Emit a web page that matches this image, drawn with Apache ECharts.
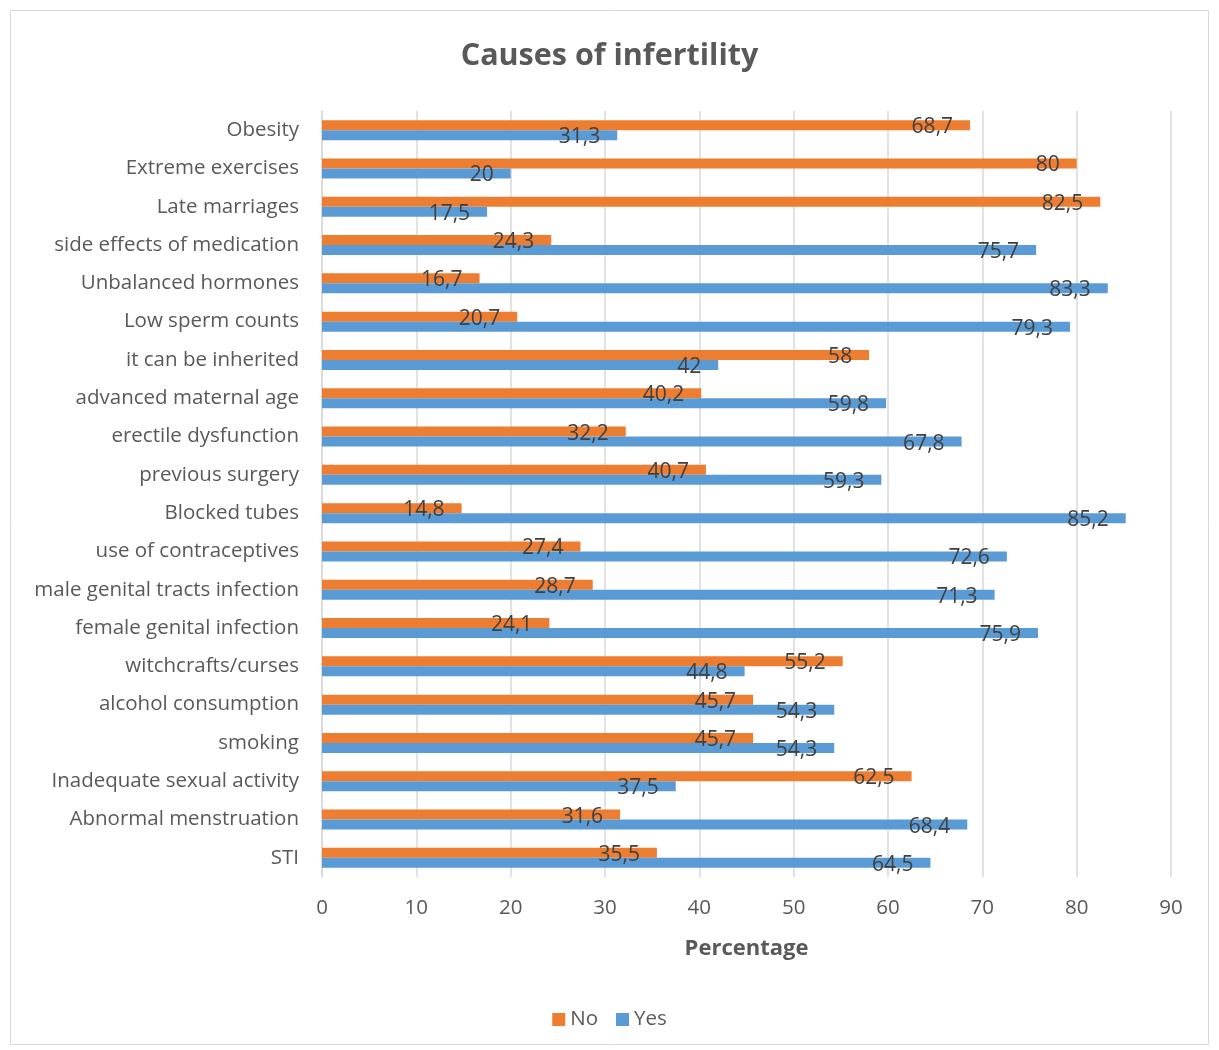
<!DOCTYPE html>
<html><head><meta charset="utf-8">
<script src="https://cdn.jsdelivr.net/npm/echarts@6/dist/echarts.min.js"></script>
<style>html,body{margin:0;padding:0;background:#fff}#c{width:1219px;height:1050px}</style>
</head><body><div id="c"></div>
<script>
const categories = ["Obesity","Extreme exercises","Late marriages","side effects of medication","Unbalanced hormones","Low sperm counts","it can be inherited","advanced maternal age","erectile dysfunction","previous surgery","Blocked tubes","use of contraceptives","male genital tracts infection","female genital infection","witchcrafts/curses","alcohol consumption","smoking","Inadequate sexual activity","Abnormal menstruation","STI"];
const noValues = [68.7,80,82.5,24.3,16.7,20.7,58,40.2,32.2,40.7,14.8,27.4,28.7,24.1,55.2,45.7,45.7,62.5,31.6,35.5];
const yesValues = [31.3,20,17.5,75.7,83.3,79.3,42,59.8,67.8,59.3,85.2,72.6,71.3,75.9,44.8,54.3,54.3,37.5,68.4,64.5];
const xTicks = [0,10,20,30,40,50,60,70,80,90];

const FONT = "Open Sans";
const fmt = p => String(p.value).replace('.', ',');
const lbl = {show:true, position:'insideRight', distance:17, formatter:fmt, color:'#404040', fontSize:21, fontFamily:FONT, offset:[0,2]};
const chart = echarts.init(document.getElementById('c'));
chart.setOption({
  animation:false,
  backgroundColor:'#fff',
  graphic:[{type:'rect', shape:{x:10.5,y:10.5,width:1198,height:1034}, style:{fill:'none', stroke:'#d9d9d9', lineWidth:1}, silent:true}],
  title:{text:'Causes of infertility', left:'center', top:36, textStyle:{fontFamily:FONT, fontSize:30.5, fontWeight:'bold', color:'#595959'}},
  legend:{data:['No','Yes'], bottom:15, left:'center', itemWidth:13, itemHeight:13, itemGap:18, icon:'rect', textStyle:{fontFamily:FONT, fontSize:20.5, color:'#595959'}},
  grid:{left:322, right:48, top:111, bottom:173, containLabel:false},
  xAxis:{type:'value', min:0, max:90, interval:10,
    name:'Percentage', nameLocation:'middle', nameGap:61,
    nameTextStyle:{fontFamily:FONT, fontSize:22, fontWeight:'bold', color:'#595959'},
    axisLine:{show:false}, axisTick:{show:false},
    axisLabel:{fontFamily:FONT, fontSize:20.5, color:'#595959', margin:21, formatter:v=>xTicks.includes(v)?String(v):''},
    splitLine:{lineStyle:{color:'#d9d9d9', width:1.5}}},
  yAxis:{type:'category', data:categories, inverse:true,
    axisLine:{lineStyle:{color:'#d9d9d9', width:1.5}}, axisTick:{show:false},
    axisLabel:{fontFamily:FONT, fontSize:20.5, color:'#595959', margin:23}},
  series:[
    {name:'No', type:'bar', data:noValues, barWidth:10, barGap:'0%', itemStyle:{color:'#ED7D31'}, label:lbl},
    {name:'Yes', type:'bar', data:yesValues, barWidth:10, barGap:'0%', itemStyle:{color:'#5B9BD5'}, label:lbl}
  ]
});
</script></body></html>
